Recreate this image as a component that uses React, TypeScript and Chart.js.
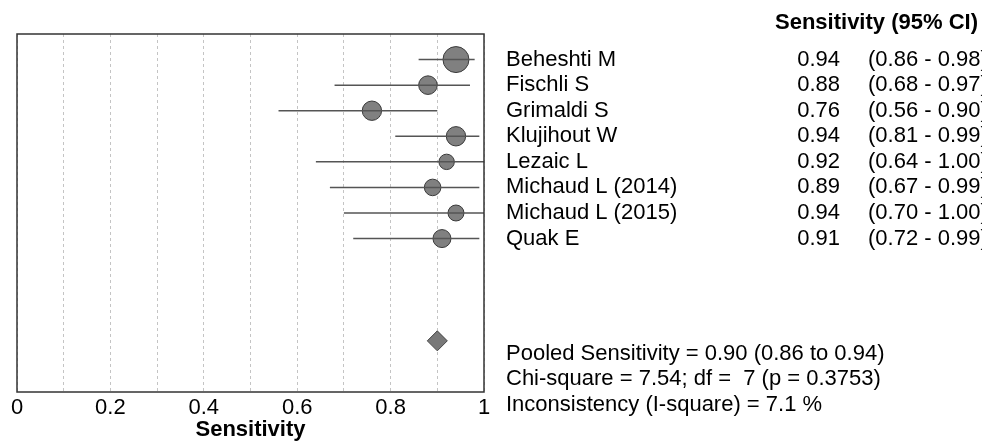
import React, { useEffect, useRef } from 'react';
import { Chart, registerables } from 'chart.js';

Chart.register(...registerables);

// ---- data ----
const studies = [
  'Beheshti M',
  'Fischli S',
  'Grimaldi S',
  'Klujihout W',
  'Lezaic L',
  'Michaud L (2014)',
  'Michaud L (2015)',
  'Quak E',
];
const sensitivity = [0.94, 0.88, 0.76, 0.94, 0.92, 0.89, 0.94, 0.91];
const ciLower = [0.86, 0.68, 0.56, 0.81, 0.64, 0.67, 0.7, 0.72];
const ciUpper = [0.98, 0.97, 0.9, 0.99, 1.0, 0.99, 1.0, 0.99];
// relative study weights (%), shown by marker area
const studyWeight = [23.6, 12.1, 13.1, 13.1, 8.3, 9.6, 8.9, 11.3];
const pooledSensitivity = 0.9;
const pooledLower = 0.86;
const pooledUpper = 0.94;
const xTickLabels = [0, 0.2, 0.4, 0.6, 0.8, 1];
const headerText = 'Sensitivity (95% CI)';
const summaryLines = [
  'Pooled Sensitivity = 0.90 (0.86 to 0.94)',
  'Chi-square = 7.54; df =  7 (p = 0.3753)',
  'Inconsistency (I-square) = 7.1 %',
];
const axisTitle = 'Sensitivity';

const FONT = '"Liberation Sans", Arial, Helvetica, sans-serif';

export default function App() {
  const canvasRef = useRef<HTMLCanvasElement | null>(null);

  useEffect(() => {
    document.body.style.margin = '0';
    const canvas = canvasRef.current;
    if (!canvas) return;

    const pooledRow = studies.length + 3; // row index of the summary diamond

    const forestPlugin = {
      id: 'forestExtras',
      afterDatasetsDraw(chart: any) {
        const { ctx, chartArea, scales } = chart;
        const xs = scales.x;
        const ys = scales.y;
        ctx.save();
        // confidence interval lines
        ctx.strokeStyle = '#555555';
        ctx.lineWidth = 1.5;
        studies.forEach((_, i) => {
          const y = ys.getPixelForValue(i);
          ctx.beginPath();
          ctx.moveTo(xs.getPixelForValue(ciLower[i]), y);
          ctx.lineTo(xs.getPixelForValue(ciUpper[i]), y);
          ctx.stroke();
        });
        // box
        ctx.strokeStyle = '#333333';
        ctx.lineWidth = 1.5;
        ctx.strokeRect(
          chartArea.left,
          chartArea.top,
          chartArea.right - chartArea.left,
          chartArea.bottom - chartArea.top
        );
        ctx.restore();
      },
      afterDraw(chart: any) {
        const { ctx, scales } = chart;
        const ys = scales.y;
        ctx.save();
        ctx.fillStyle = '#000000';
        ctx.textBaseline = 'middle';
        // header
        ctx.font = `bold 22px ${FONT}`;
        ctx.textAlign = 'left';
        ctx.fillText(headerText, 775, ys.getPixelForValue(-1.45));
        // study rows
        ctx.font = `22px ${FONT}`;
        studies.forEach((name, i) => {
          const y = ys.getPixelForValue(i);
          ctx.textAlign = 'left';
          ctx.fillText(name, 506, y);
          ctx.textAlign = 'right';
          ctx.fillText(sensitivity[i].toFixed(2), 840, y);
          ctx.textAlign = 'left';
          ctx.fillText(
            `(${ciLower[i].toFixed(2)} - ${ciUpper[i].toFixed(2)})`,
            868,
            y
          );
        });
        // summary
        summaryLines.forEach((line, k) => {
          ctx.textAlign = 'left';
          ctx.fillText(line, 506, ys.getPixelForValue(pooledRow + 0.5 + k));
        });
        ctx.restore();
      },
    };

    const radiusScale = 13 / Math.sqrt(Math.max(...studyWeight));

    const chart = new Chart(canvas, {
      type: 'scatter',
      data: {
        datasets: [
          {
            label: 'Studies',
            data: studies.map((_, i) => ({ x: sensitivity[i], y: i })),
            pointRadius: studyWeight.map((w) => Math.sqrt(w) * radiusScale),
            pointHoverRadius: studyWeight.map((w) => Math.sqrt(w) * radiusScale),
            backgroundColor: '#808080',
            borderColor: '#3a3a3a',
            borderWidth: 1,
            pointStyle: 'circle',
          },
          {
            label: 'Pooled',
            data: [{ x: pooledSensitivity, y: pooledRow }],
            pointRadius: 10,
            pointHoverRadius: 10,
            pointStyle: 'rectRot',
            backgroundColor: '#787878',
            borderColor: '#444444',
            borderWidth: 1,
          },
        ],
      },
      options: {
        responsive: false,
        animation: false,
        devicePixelRatio: 1,
        layout: { padding: { left: 17, right: 498, top: 34, bottom: 0 } },
        plugins: {
          legend: { display: false },
          tooltip: { enabled: false },
        },
        scales: {
          x: {
            type: 'linear',
            min: 0,
            max: 1,
            afterFit: (scale: any) => {
              scale.height = 52;
            },
            ticks: {
              stepSize: 0.1,
              autoSkip: false,
              maxRotation: 0,
              padding: 3,
              color: '#000000',
              font: { size: 22, family: FONT },
              callback: (v: any) => {
                const t = xTickLabels.find((t) => Math.abs(t - Number(v)) < 1e-6);
                return t === undefined ? '' : String(t);
              },
            },
            grid: {
              color: '#c4c4c4',
              lineWidth: 1,
              drawTicks: false,
            },
            border: { display: false, dash: [3, 3] },
            title: {
              display: true,
              text: axisTitle,
              color: '#000000',
              font: { size: 22, weight: 'bold', family: FONT },
              padding: { top: 0, bottom: 1 },
            },
          },
          y: {
            type: 'linear',
            min: -1,
            max: 13,
            reverse: true,
            display: false,
          },
        },
      },
      plugins: [forestPlugin],
    } as any);

    return () => chart.destroy();
  }, []);

  return (
    <div style={{ width: 982, height: 444, background: '#ffffff' }}>
      <canvas ref={canvasRef} width={982} height={444} />
    </div>
  );
}
